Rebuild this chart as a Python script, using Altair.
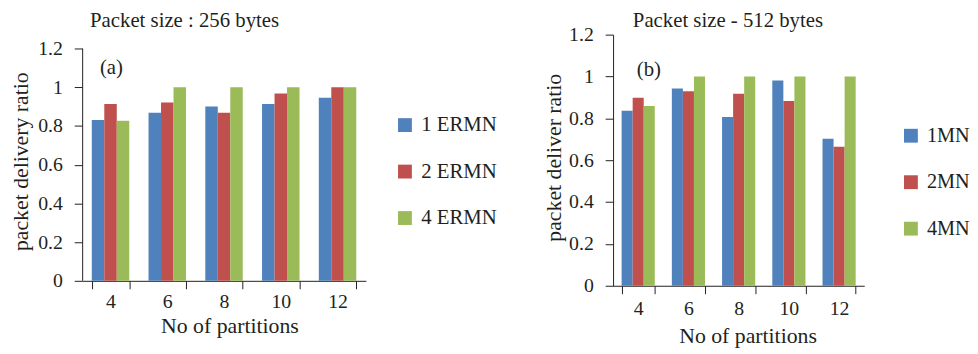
import altair as alt
import pandas as pd

partitions = ["4", "6", "8", "10", "12"]

series_a = ["1 ERMN", "2 ERMN", "4 ERMN"]
a_1 = [0.831, 0.868, 0.900, 0.913, 0.945]
a_2 = [0.913, 0.921, 0.868, 0.967, 1.0]
a_4 = [0.827, 1.0, 1.0, 1.0, 1.0]

series_b = ["1MN", "2MN", "4MN"]
b_1 = [0.836, 0.943, 0.807, 0.981, 0.703]
b_2 = [0.899, 0.930, 0.918, 0.883, 0.664]
b_4 = [0.859, 1.0, 1.0, 1.0, 1.0]

colors = ["#4F81BD", "#C0504D", "#9BBB59"]
y_ticks = [0, 0.2, 0.4, 0.6, 0.8, 1.0, 1.2]

FONT = "Liberation Serif, Times New Roman, serif"
TXT = "#231f20"
FS = 20


def long_df(series, vals):
    rows = []
    for s, v in zip(series, vals):
        for p, val in zip(partitions, v):
            rows.append({"partition": p, "series": s, "value": val})
    return pd.DataFrame(rows)


def panel(df, series, title, title_dx, title_offset, ytitle, ytitle_y, ytitle_pad,
          xtitle_x, xlab_pad, xtitle_pad, tag, tag_x, tag_y, width, height, ymax,
          own_domain_line, legend_x, legend_y, row_pad, legend_fs):
    yscale = alt.Scale(domain=[0, ymax], nice=False)
    bars = alt.Chart(df).mark_bar().encode(
        x=alt.X("partition:N", sort=partitions,
                scale=alt.Scale(paddingInner=0.34, paddingOuter=0.17),
                axis=alt.Axis(title="No of partitions", labelAngle=0,
                              tickBand="extent", tickSize=8,
                              labelPadding=xlab_pad, titlePadding=xtitle_pad,
                              titleX=xtitle_x,
                              labelFont=FONT, labelFontSize=FS,
                              labelColor=TXT, titleFont=FONT, titleFontSize=22,
                              titleColor=TXT, titleFontWeight="normal",
                              domainColor=TXT, tickColor=TXT)),
        xOffset=alt.XOffset("series:N", sort=series,
                            scale=alt.Scale(paddingInner=0, paddingOuter=0)),
        y=alt.Y("value:Q", scale=yscale,
                axis=alt.Axis(title=ytitle, values=y_ticks, format="~g",
                              tickSize=8, labelPadding=12, titlePadding=ytitle_pad,
                              titleY=ytitle_y,
                              grid=False, domain=not own_domain_line,
                              labelFont=FONT, labelFontSize=FS, labelColor=TXT,
                              titleFont=FONT, titleFontSize=22, titleColor=TXT,
                              titleFontWeight="normal", domainColor=TXT,
                              tickColor=TXT)),
        color=alt.Color("series:N", sort=series,
                        scale=alt.Scale(domain=series, range=colors),
                        legend=alt.Legend(title=None, orient="none",
                                          legendX=legend_x, legendY=legend_y,
                                          symbolType="square", symbolSize=196,
                                          symbolStrokeWidth=0,
                                          labelFont=FONT, labelFontSize=legend_fs,
                                          labelColor=TXT, labelOffset=6,
                                          rowPadding=row_pad, padding=0)),
    )
    label = alt.Chart(pd.DataFrame({"t": [tag]})).mark_text(
        font=FONT, fontSize=21, color=TXT, align="left", baseline="middle"
    ).encode(text="t:N", x=alt.value(tag_x), y=alt.value(tag_y))
    layers = [bars, label]
    if own_domain_line:
        axis_line = alt.Chart(pd.DataFrame({"lo": [0.0], "hi": [y_ticks[-1]]})).mark_rule(
            color=TXT, strokeWidth=1
        ).encode(x=alt.value(0.5), y=alt.Y("lo:Q", scale=yscale), y2="hi:Q")
        layers.append(axis_line)
    return alt.layer(*layers).properties(
        width=width, height=height,
        title=alt.TitleParams(text=title, anchor="start", frame="group",
                              dx=title_dx, offset=title_offset, font=FONT,
                              fontSize=21, fontWeight="normal", color=TXT),
    )


left = panel(long_df(series_a, [a_1, a_2, a_4]), series_a,
             "Packet size : 256 bytes", 8, 3.8, "packet delivery ratio", 128, 5,
             149, 3, 4,
             "(a)", 18, 34, 287, 249, 1.2715, True, 316, 81, 25, 21)
right = panel(long_df(series_b, [b_1, b_2, b_4]), series_b,
              "Packet size  - 512 bytes", 20, -6, "packet deliver ratio", 124, 3,
              136, 5, 7,
              "(b)", 24, 36, 254, 254, 1.2, False, 291, 92, 26, 20.5)

chart = alt.hconcat(left, right, spacing=46).resolve_scale(
    color="independent", x="independent", y="independent", xOffset="independent"
).properties(
    padding={"left": 2, "top": 0, "right": 0, "bottom": 0}
).configure(font=FONT).configure_view(stroke=None)

chart.save("out.html", embed_options={"renderer": "svg", "actions": False})
